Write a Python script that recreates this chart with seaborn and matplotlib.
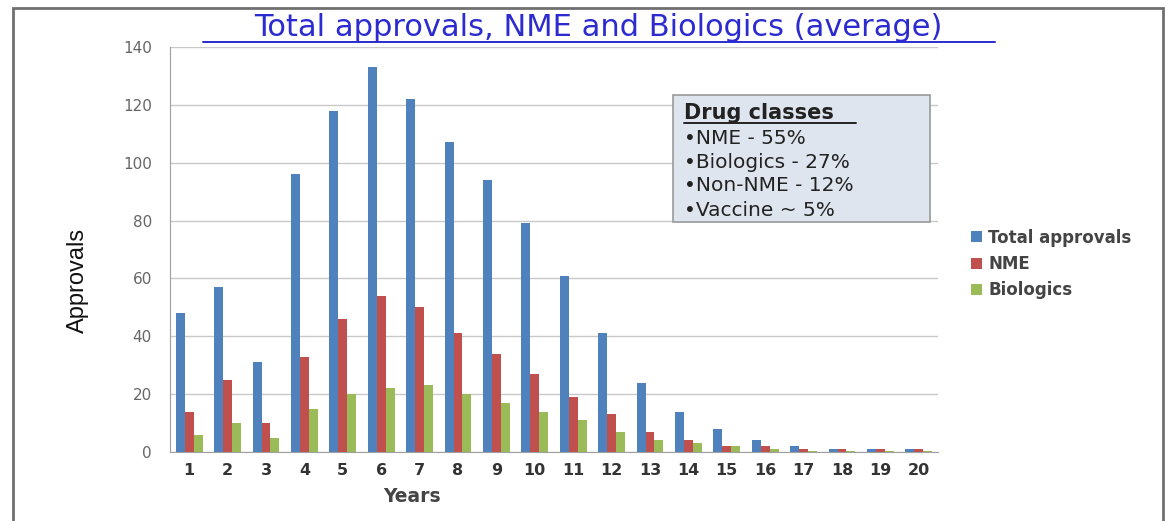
import matplotlib
matplotlib.use("Agg")
import matplotlib.pyplot as plt
import seaborn as sns
import pandas as pd
from matplotlib.patches import Rectangle

years = [str(i) for i in range(1, 21)]
total_approvals = [48, 57, 31, 96, 118, 133, 122, 107, 94, 79, 61, 41, 24, 14, 8, 4, 2, 1, 1, 1]
nme = [14, 25, 10, 33, 46, 54, 50, 41, 34, 27, 19, 13, 7, 4, 2, 2, 1, 1, 1, 1]
biologics = [6, 10, 5, 15, 20, 22, 23, 20, 17, 14, 11, 7, 4, 3, 2, 1, 0.5, 0.5, 0.5, 0.5]
series_names = ["Total approvals", "NME", "Biologics"]
colors = ["#4f81bd", "#c0504d", "#9bbb59"]
box_lines = ["\u2022NME - 55%", "\u2022Biologics - 27%", "\u2022Non-NME - 12%", "\u2022Vaccine ~ 5%"]

df = pd.DataFrame({
    "Years": years * 3,
    "Approvals": total_approvals + nme + biologics,
    "Series": sum([[s] * len(years) for s in series_names], []),
})

sns.set_style("white")
plt.rcParams['font.family'] = ['DejaVu Sans']

fig = plt.figure(figsize=(11.7, 5.21), dpi=100)
ax = fig.add_axes([170/1170, 69/521, 768/1170, 405/521])

sns.barplot(data=df, x="Years", y="Approvals", hue="Series", palette=colors,
            width=0.7, ax=ax, saturation=1, legend=True, linewidth=0)

ax.set_ylim(0, 140)
ax.set_xlim(-0.5, 19.5)
ax.set_yticks(range(0, 141, 20))
ax.yaxis.grid(True, color="#c8c8c8", linewidth=1)
ax.set_axisbelow(True)
for side in ["top", "right"]:
    ax.spines[side].set_visible(False)
for side in ["left", "bottom"]:
    ax.spines[side].set_color("#a0a0a0")
ax.tick_params(axis="y", labelsize=11, colors="#555555", length=5, color="#a0a0a0", pad=8)
ax.tick_params(axis="x", labelsize=11.5, colors="#333333", length=0, pad=8)
for lab in ax.get_xticklabels():
    lab.set_fontweight("bold")
for lab in ax.get_yticklabels():
    lab.set_color("#666666")
# minor ticks between categories
ax.set_xticks([i - 0.5 for i in range(21)], minor=True)
ax.tick_params(axis="x", which="minor", length=4, color="#a0a0a0")

ax.set_xlabel("")
ax.set_ylabel("")
fig.text(412/1170, 1 - 497/521, "Years", ha="center", va="center", fontsize=13.5,
         fontweight="bold", color="#444444")
fig.text(78/1170, 1 - 280/521, "Approvals", ha="center", va="center", fontsize=17,
         rotation=90, color="#111111", family=["Liberation Sans Narrow", "Liberation Sans"])

fig.text(598/1170, 1 - 27/521, "Total approvals, NME and Biologics (average)", ha="center",
         va="center", fontsize=22, color="#2b2bd0")
fig.add_artist(plt.Line2D([203/1170, 995/1170], [1 - 42/521, 1 - 42/521], color="#2b2bd0", linewidth=1.4))

# info box
fig.add_artist(Rectangle((673/1170, 1 - 222/521), 257/1170, 127/521, transform=fig.transFigure,
                         facecolor="#dfe5ef", edgecolor="#9a9a9a", linewidth=1.2, zorder=5))
fig.text(684/1170, 1 - 113/521, "Drug classes", fontsize=15, fontweight="bold", color="#222222",
         va="center", ha="left", zorder=6)
fig.add_artist(plt.Line2D([684/1170, 856/1170], [1 - 123/521, 1 - 123/521], color="#222222", linewidth=1.4, zorder=6))
for i, line in enumerate(box_lines):
    fig.text(684/1170, 1 - (138 + i * 24)/521, line, fontsize=14.5, color="#222222",
             va="center", ha="left", zorder=6)

leg = ax.legend(loc="center left", bbox_to_anchor=(956/1170, 1 - 264/521),
                bbox_transform=fig.transFigure, frameon=False, fontsize=12,
                handlelength=0.65, handleheight=0.65, handletextpad=0.4, labelspacing=0.5)
for t in leg.get_texts():
    t.set_color("#444444")
    t.set_fontweight("bold")

# outer frame
fig.add_artist(Rectangle((13/1170, -0.01), 1150/1170, 1 - 8/521 + 0.01, transform=fig.transFigure,
                         facecolor="none", edgecolor="#707070", linewidth=2))

fig.savefig("out.png", dpi=100)
